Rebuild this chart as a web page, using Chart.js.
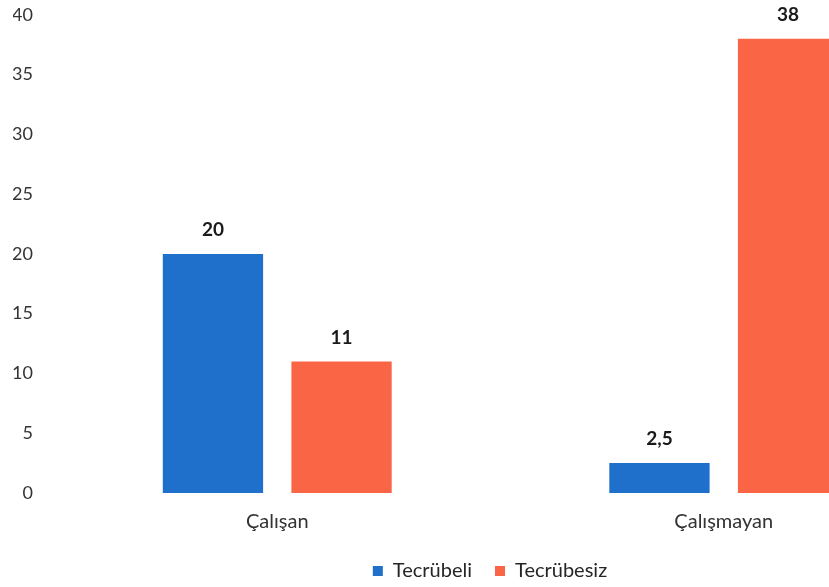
<!DOCTYPE html>
<html><head><meta charset="utf-8">
<script src="https://cdn.jsdelivr.net/npm/chart.js@4/dist/chart.umd.min.js"></script>
<style>
html,body{margin:0;padding:0;overflow:hidden;background:#fff;}
#wrap{width:980px;height:608px;position:relative;margin-top:-17px;}
</style></head>
<body>
<div id="wrap"><canvas id="c"></canvas></div>
<script>
const categories = ["Çalışan", "Çalışmayan"];
const tecrubeli = [20, 2.5];
const tecrubesiz = [11, 38];
const seriesNames = ["Tecrübeli", "Tecrübesiz"];

const FONT = "Lato, 'Open Sans', sans-serif";
const fmt = v => String(v).replace('.', ',');

const valueLabels = {
  id: 'valueLabels',
  afterDatasetsDraw(chart) {
    const ctx = chart.ctx;
    ctx.save();
    ctx.font = "bold 19px " + FONT;
    ctx.fillStyle = '#1a1a1a';
    ctx.textAlign = 'center';
    ctx.textBaseline = 'middle';
    chart.data.datasets.forEach((ds, i) => {
      chart.getDatasetMeta(i).data.forEach((bar, j) => {
        ctx.fillText(fmt(ds.data[j]), bar.x, bar.y - 24);
      });
    });
    ctx.restore();
  }
};

// nudge the legend box to the right, as in the source layout
const legendShift = {
  id: 'legendShift',
  afterLayout(chart) {
    if (chart.legend) { chart.legend.left += 10; chart.legend.right += 10; }
  }
};

new Chart(document.getElementById('c'), {
  type: 'bar',
  data: {
    labels: categories,
    datasets: [
      { label: seriesNames[0], data: tecrubeli, backgroundColor: '#1e70ca' },
      { label: seriesNames[1], data: tecrubesiz, backgroundColor: '#fa6546' }
    ]
  },
  options: {
    responsive: true,
    maintainAspectRatio: false,
    animation: false,
    categoryPercentage: 0.576,
    barPercentage: 0.78,
    layout: { padding: { top: 0, left: 13, right: 33, bottom: 0 } },
    plugins: {
      legend: {
        position: 'bottom',
        labels: {
          font: { family: FONT, size: 20 },
          color: '#262626',
          boxWidth: 10,
          boxHeight: 10,
          padding: 23
        }
      },
      tooltip: { enabled: false }
    },
    scales: {
      x: {
        grid: { display: false, drawTicks: false },
        border: { display: false },
        ticks: { font: { family: FONT, size: 20 }, color: '#333', padding: 17 },
        afterFit(s) { s.height = 45; }
      },
      y: {
        min: 0, max: 40,
        grid: { display: false, drawTicks: false },
        border: { display: false },
        ticks: { stepSize: 5, font: { family: FONT, size: 18 }, color: '#333', padding: 21 },
        afterFit(s) { s.width = 41; }
      }
    }
  },
  plugins: [valueLabels, legendShift]
});
</script>
</body></html>
